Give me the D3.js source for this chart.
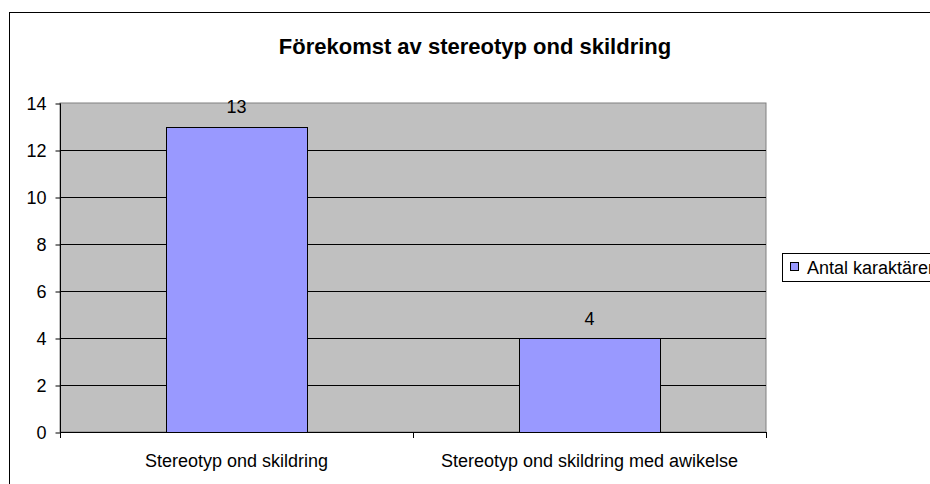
<!DOCTYPE html>
<html>
<head>
<meta charset="utf-8">
<script src="https://cdn.jsdelivr.net/npm/d3@7"></script>
<style>
  body { margin: 0; background: #fff; }
  text { font-family: "Liberation Sans", Arial, sans-serif; fill: #000; }
</style>
</head>
<body>
<div id="chart"></div>
<script>
// data
var categories = ["Stereotyp ond skildring", "Stereotyp ond skildring med awikelse"];
var values = [13, 4];
var yTicks = [0, 2, 4, 6, 8, 10, 12, 14];
var seriesName = "Antal karaktärer";
var title = "Förekomst av stereotyp ond skildring";

var W = 930, H = 484;
var svg = d3.select("#chart").append("svg").attr("width", W).attr("height", H);

// outer chart frame (runs off the right/bottom edge)
svg.append("rect").attr("x", 9.5).attr("y", 12.5).attr("width", 940).attr("height", 500)
  .attr("fill", "#fff").attr("stroke", "#000").attr("stroke-width", 1);

svg.append("text").attr("x", 475).attr("y", 54).attr("text-anchor", "middle")
  .style("font-size", "22px").style("font-weight", "bold").text(title);

var plot = {left: 60, right: 766, top: 103, bottom: 432};
var x = d3.scaleBand().domain(categories).range([plot.left, plot.right]).paddingInner(0).paddingOuter(0);
var y = d3.scaleLinear().domain([0, 14]).range([plot.bottom, plot.top]);

var g = svg.append("g");
g.append("rect").attr("x", plot.left).attr("y", plot.top)
  .attr("width", plot.right - plot.left).attr("height", plot.bottom - plot.top)
  .attr("fill", "#c0c0c0").attr("stroke", "#808080");

// gridlines
g.selectAll("line.grid").data(yTicks.slice(1, -1)).enter().append("line")
  .attr("class", "grid")
  .attr("x1", plot.left).attr("x2", plot.right)
  .attr("y1", function(d){ return Math.round(y(d)) + 0.5; })
  .attr("y2", function(d){ return Math.round(y(d)) + 0.5; })
  .attr("stroke", "#000");

// bars, 40% of the band wide
var bw = x.bandwidth() * 0.4;
g.selectAll("rect.bar").data(values).enter().append("rect")
  .attr("class", "bar")
  .attr("x", function(d, i){ return Math.round(x(categories[i]) + (x.bandwidth() - bw) / 2) + 0.5; })
  .attr("y", function(d){ return Math.round(y(d)) + 0.5; })
  .attr("width", Math.round(bw))
  .attr("height", function(d){ return Math.round(y(0)) - Math.round(y(d)); })
  .attr("fill", "#9999ff").attr("stroke", "#000");

g.selectAll("text.val").data(values).enter().append("text")
  .attr("class", "val")
  .attr("x", function(d, i){ return x(categories[i]) + x.bandwidth() / 2; })
  .attr("y", function(d){ return y(d) - 13.5; })
  .attr("text-anchor", "middle").style("font-size", "18px").text(function(d){ return d; });

// y axis
var yAxis = d3.axisLeft(y).tickValues(yTicks).tickSize(5).tickPadding(9);
var ya = svg.append("g").attr("transform", "translate(" + (plot.left + 0.5) + ",0.5)").call(yAxis);
ya.select(".domain").attr("stroke", "#000").attr("d", "M0," + plot.top + "V" + plot.bottom);
ya.selectAll("text").style("font-size", "18px").style("font-family", "Liberation Sans, Arial, sans-serif");

// x axis: tick marks at category boundaries
var xa = svg.append("g");
xa.append("line").attr("x1", plot.left).attr("x2", plot.right)
  .attr("y1", plot.bottom + 0.5).attr("y2", plot.bottom + 0.5).attr("stroke", "#000");
var bounds = categories.map(function(c){ return x(c); }).concat([plot.right]);
xa.selectAll("line.tk").data(bounds).enter().append("line").attr("class", "tk")
  .attr("x1", function(d){ return d + 0.5; }).attr("x2", function(d){ return d + 0.5; })
  .attr("y1", plot.bottom).attr("y2", plot.bottom + 6).attr("stroke", "#000");
xa.selectAll("text").data(categories).enter().append("text")
  .attr("x", function(d){ return x(d) + x.bandwidth() / 2; })
  .attr("y", 467).attr("text-anchor", "middle").style("font-size", "18px")
  .text(function(d){ return d; });

// legend
var lg = svg.append("g");
lg.append("rect").attr("x", 782.5).attr("y", 253.5).attr("width", 200).attr("height", 28)
  .attr("fill", "#fff").attr("stroke", "#000");
lg.append("rect").attr("x", 790.5).attr("y", 262.5).attr("width", 8).attr("height", 8)
  .attr("fill", "#9999ff").attr("stroke", "#000");
lg.append("text").attr("x", 807).attr("y", 274).style("font-size", "18px").text(seriesName);
</script>
</body>
</html>
